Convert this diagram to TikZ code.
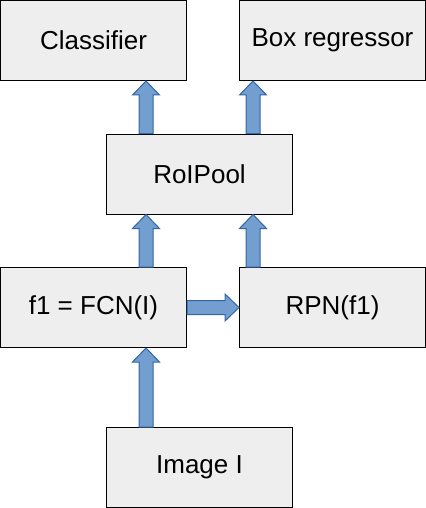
\documentclass[tikz,border=0pt]{standalone}
\usepackage{fontspec}
\setmainfont{Liberation Sans}
\usepackage{xcolor}
\usepackage{tikz}
\usetikzlibrary{positioning,calc}
\definecolor{rcnnfill}{HTML}{EEEEEE}
\definecolor{rcnnblue}{HTML}{729FCF}
\definecolor{rcnnedge}{HTML}{3465A4}
\tikzset{
  stagebox/.style={draw=black, line width=0.5pt, fill=rcnnfill, align=center,
    minimum width=93pt, minimum height=40pt, inner sep=0pt,
    font=\fontsize{13}{15.6}\selectfont},
  blockarrow/.style={fill=rcnnblue, draw=rcnnedge, line width=0.5pt, line join=miter,
    to path={let \p3=($(\tikztotarget)!7pt!(\tikztostart)$) in
      ($(\tikztostart)!3.5pt!90:(\tikztotarget)$)
      -- ($(\p3)!3.5pt!-90:(\tikztostart)$)
      -- ($(\p3)!6.75pt!-90:(\tikztostart)$)
      -- (\tikztotarget)
      -- ($(\p3)!6.75pt!90:(\tikztostart)$)
      -- ($(\p3)!3.5pt!90:(\tikztostart)$)
      -- ($(\tikztostart)!3.5pt!-90:(\tikztotarget)$)
      -- cycle}}
}

\begin{document}
\begin{tikzpicture}[node distance=26.25pt and 26pt]
        \useasboundingbox (0,0) rectangle (213pt,-254pt);
        \node[stagebox] (cls) at (46.75pt,-20.25pt) {Classifier};
        \node[stagebox, right=of cls] (reg) {Box regressor};
        \node[stagebox, below=of cls, xshift=53pt] (roi) {RoIPool};
        \node[stagebox, below=of roi, xshift=-53pt] (f1) {f1 = FCN(I)};
        \node[stagebox, right=of f1] (rpn) {RPN(f1)};
        \node[stagebox, below=39.5pt of f1, xshift=53pt] (img) {Image I};
        \coordinate (p1) at ([xshift=20pt]roi.north west);
        \coordinate (p2) at ([xshift=-20pt]roi.north east);
        \draw[blockarrow] (p1) to (p1 |- cls.south);
        \draw[blockarrow] (p2) to (p2 |- reg.south);
        \draw[blockarrow] (p1 |- f1.north) to (p1 |- roi.south);
        \draw[blockarrow] (p2 |- rpn.north) to (p2 |- roi.south);
        \draw[blockarrow] (f1.east) to (rpn.west);
        \draw[blockarrow] (p1 |- img.north) to (p1 |- f1.south);
    \end{tikzpicture}
\end{document}
